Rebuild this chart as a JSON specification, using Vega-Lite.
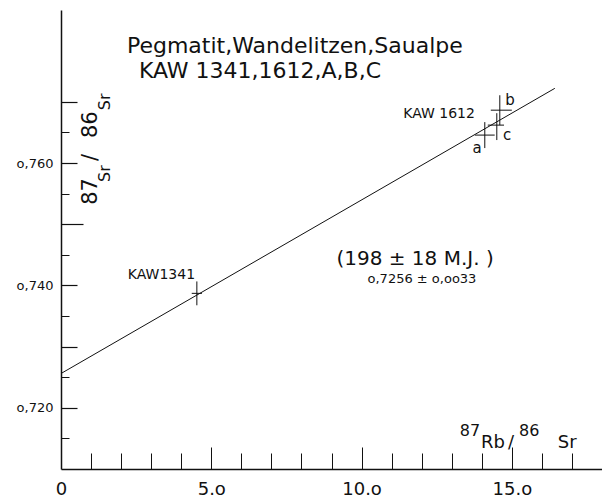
{
  "$schema": "https://vega.github.io/schema/vega-lite/v6.json",
  "width": 541,
  "height": 459,
  "autosize": {"type": "none"},
  "padding": {"left": 61, "top": 10, "right": 0, "bottom": 30},
  "background": "white",
  "config": {
    "view": {"stroke": null},
    "axis": {"grid": false, "domainColor": "#111", "tickColor": "#111", "labelColor": "#111", "labelFont": "DejaVu Sans", "title": null},
    "text": {"font": "DejaVu Sans", "color": "#111"}
  },
  "resolve": {"axis": {"x": "independent", "y": "independent"}},
  "layer": [
    {
      "data": {"values": [{"x": 0, "y": 0.7256, "x2": 16.43, "y2": 0.7722}]},
      "mark": {"type": "rule", "color": "#111", "strokeWidth": 1},
      "encoding": {
        "x": {"field": "x", "type": "quantitative", "scale": {"domain": [0, 18], "nice": false, "zero": false},
          "axis": {"orient": "bottom", "values": [0, 5, 10, 15], "ticks": false, "labelExpr": "datum.value == 0 ? '0' : datum.value + '.o'", "labelFontSize": 18, "labelPadding": 11, "labelFlush": false, "domainWidth": 1.5}},
        "y": {"field": "y", "type": "quantitative", "scale": {"domain": [0.71, 0.785], "nice": false, "zero": false},
          "axis": {"orient": "left", "values": [0.72, 0.74, 0.76], "ticks": false, "labelExpr": "'o,' + format(datum.value * 1000, '.0f')", "labelFontSize": 13, "labelPadding": 8, "domainWidth": 1.5}},
        "x2": {"field": "x2"},
        "y2": {"field": "y2"}
      }
    },
    {
      "data": {"name": "pts", "values": [
        {"id": "KAW1341", "x": 4.52, "y": 0.7387, "xlo": 4.35, "xhi": 4.69, "ylo": 0.73675, "yhi": 0.74065},
        {"id": "a", "x": 14.10, "y": 0.76456, "xlo": 13.77, "xhi": 14.43, "ylo": 0.76244, "yhi": 0.76668},
        {"id": "c", "x": 14.50, "y": 0.76619, "xlo": 14.20, "xhi": 14.74, "ylo": 0.76375, "yhi": 0.76814},
        {"id": "b", "x": 14.60, "y": 0.76863, "xlo": 14.30, "xhi": 15.00, "ylo": 0.76619, "yhi": 0.77107}
      ]},
      "mark": {"type": "rule", "color": "#111", "strokeWidth": 1},
      "encoding": {
        "x": {"field": "x", "type": "quantitative",
          "axis": {"orient": "bottom", "values": [1, 2, 3, 4, 6, 7, 8, 9, 11, 12, 13, 14, 16, 17], "labels": false, "domain": false, "tickSize": -16, "tickWidth": 1}},
        "y": {"field": "ylo", "type": "quantitative",
          "axis": {"orient": "left", "values": [0.715, 0.725, 0.735, 0.745, 0.755, 0.765], "labels": false, "domain": false, "tickSize": -8, "tickWidth": 1}},
        "y2": {"field": "yhi"}
      }
    },
    {
      "data": {"name": "pts"},
      "mark": {"type": "rule", "color": "#111", "strokeWidth": 1},
      "encoding": {
        "x": {"field": "xlo", "type": "quantitative",
          "axis": {"orient": "bottom", "values": [5, 10, 15], "labels": false, "domain": false, "tickSize": -22, "tickWidth": 1}},
        "x2": {"field": "xhi"},
        "y": {"field": "y", "type": "quantitative",
          "axis": {"orient": "left", "values": [0.72, 0.73, 0.74, 0.76, 0.77], "labels": false, "domain": false, "tickSize": -16, "tickWidth": 1.2}}
      }
    },
    {
      "data": {"values": [
        {"t": "Pegmatit,Wandelitzen,Saualpe", "x": 7.78, "y": 0.7779},
        {"t": "KAW 1341,1612,A,B,C", "x": 6.62, "y": 0.77384}
      ]},
      "mark": {"type": "text", "fontSize": 22, "align": "center", "baseline": "alphabetic"},
      "encoding": {
        "x": {"field": "x", "type": "quantitative", "axis": null},
        "y": {"field": "y", "type": "quantitative",
          "axis": {"orient": "left", "values": [0.75], "labels": false, "domain": false, "tickSize": -22, "tickWidth": 1.2}},
        "text": {"field": "t"}
      }
    },
    {
      "data": {"values": [
        {"t": "KAW1341", "x": 4.46, "y": 0.74098},
        {"t": "KAW 1612", "x": 13.77, "y": 0.76733}
      ]},
      "mark": {"type": "text", "fontSize": 14, "align": "right", "baseline": "alphabetic"},
      "encoding": {
        "x": {"field": "x", "type": "quantitative", "axis": null},
        "y": {"field": "y", "type": "quantitative", "axis": null},
        "text": {"field": "t"}
      }
    },
    {
      "data": {"values": [
        {"t": "a", "x": 13.84, "y": 0.76163},
        {"t": "b", "x": 14.94, "y": 0.76945},
        {"t": "c", "x": 14.84, "y": 0.76375}
      ]},
      "mark": {"type": "text", "fontSize": 15, "align": "center", "baseline": "alphabetic"},
      "encoding": {
        "x": {"field": "x", "type": "quantitative", "axis": null},
        "y": {"field": "y", "type": "quantitative", "axis": null},
        "text": {"field": "t"}
      }
    },
    {
      "data": {"values": [{"t": "(198 ± 18 M.J. )", "x": 11.78, "y": 0.74339}]},
      "mark": {"type": "text", "fontSize": 20, "align": "center", "baseline": "alphabetic"},
      "encoding": {
        "x": {"field": "x", "type": "quantitative", "axis": null},
        "y": {"field": "y", "type": "quantitative", "axis": null},
        "text": {"field": "t"}
      }
    },
    {
      "data": {"values": [{"t": "o,7256 ± o,oo33", "x": 12.01, "y": 0.74046}]},
      "mark": {"type": "text", "fontSize": 13, "align": "center", "baseline": "alphabetic"},
      "encoding": {
        "x": {"field": "x", "type": "quantitative", "axis": null},
        "y": {"field": "y", "type": "quantitative", "axis": null},
        "text": {"field": "t"}
      }
    },
    {
      "data": {"values": [
        {"t": "87", "x": 1.20, "y": 0.75316},
        {"t": "/", "x": 1.20, "y": 0.76033},
        {"t": "86", "x": 1.20, "y": 0.76407}
      ]},
      "mark": {"type": "text", "fontSize": 21, "angle": 270, "align": "left", "baseline": "alphabetic"},
      "encoding": {
        "x": {"field": "x", "type": "quantitative", "axis": null},
        "y": {"field": "y", "type": "quantitative", "axis": null},
        "text": {"field": "t"}
      }
    },
    {
      "data": {"values": [
        {"t": "Sr", "x": 1.63, "y": 0.75691},
        {"t": "Sr", "x": 1.63, "y": 0.76863}
      ]},
      "mark": {"type": "text", "fontSize": 16, "angle": 270, "align": "left", "baseline": "alphabetic"},
      "encoding": {
        "x": {"field": "x", "type": "quantitative", "axis": null},
        "y": {"field": "y", "type": "quantitative", "axis": null},
        "text": {"field": "t"}
      }
    },
    {
      "data": {"values": [
        {"t": "87", "x": 13.27, "y": 0.71538},
        {"t": "86", "x": 15.24, "y": 0.71538}
      ]},
      "mark": {"type": "text", "fontSize": 16, "align": "left", "baseline": "alphabetic"},
      "encoding": {
        "x": {"field": "x", "type": "quantitative", "axis": null},
        "y": {"field": "y", "type": "quantitative", "axis": null},
        "text": {"field": "t"}
      }
    },
    {
      "data": {"values": [
        {"t": "Rb", "x": 13.97, "y": 0.71342},
        {"t": "/", "x": 14.87, "y": 0.71342},
        {"t": "Sr", "x": 16.53, "y": 0.71342}
      ]},
      "mark": {"type": "text", "fontSize": 18, "align": "left", "baseline": "alphabetic"},
      "encoding": {
        "x": {"field": "x", "type": "quantitative", "axis": null},
        "y": {"field": "y", "type": "quantitative", "axis": null},
        "text": {"field": "t"}
      }
    }
  ]
}
